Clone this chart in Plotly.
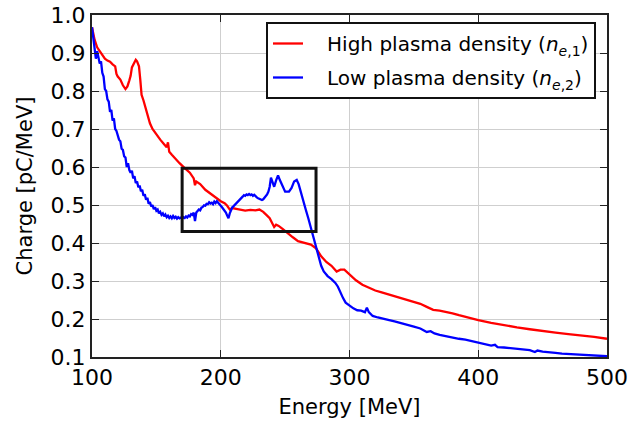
import plotly.graph_objects as go

red_x = [100, 102, 104, 106, 108, 110, 112, 114, 116, 118, 119, 120, 122, 124, 126, 127.5, 129, 130, 131, 132, 134, 135, 136.5, 137.5, 138.5, 140, 142, 144, 145, 147, 150, 153, 156, 158, 159, 160, 162, 165, 168, 172, 176, 179, 180, 181, 184, 188, 192, 196, 200, 203, 205, 207, 209, 212, 215, 219, 223, 227, 230, 233, 236, 238, 240, 241.5, 243, 245, 248, 252, 256, 260, 265, 270, 274, 278, 282, 286, 290, 293, 296, 300, 305, 310, 315, 320, 325, 330, 335, 340, 345, 350, 355, 360, 365, 370, 375, 380, 385, 390, 395, 400, 410, 420, 430, 440, 450, 460, 470, 480, 490, 500]
red_y = [0.968, 0.935, 0.915, 0.905, 0.895, 0.885, 0.880, 0.877, 0.870, 0.865, 0.845, 0.838, 0.830, 0.815, 0.805, 0.812, 0.828, 0.840, 0.862, 0.870, 0.882, 0.878, 0.865, 0.830, 0.790, 0.775, 0.752, 0.725, 0.715, 0.700, 0.685, 0.672, 0.660, 0.652, 0.665, 0.640, 0.632, 0.620, 0.610, 0.597, 0.585, 0.570, 0.552, 0.562, 0.555, 0.540, 0.530, 0.520, 0.510, 0.505, 0.498, 0.488, 0.492, 0.490, 0.487, 0.485, 0.487, 0.486, 0.488, 0.482, 0.472, 0.465, 0.452, 0.442, 0.448, 0.445, 0.437, 0.425, 0.415, 0.405, 0.400, 0.396, 0.386, 0.365, 0.350, 0.340, 0.325, 0.330, 0.330, 0.318, 0.302, 0.290, 0.282, 0.275, 0.270, 0.265, 0.260, 0.256, 0.252, 0.246, 0.240, 0.232, 0.224, 0.222, 0.219, 0.215, 0.210, 0.205, 0.200, 0.197, 0.190, 0.183, 0.178, 0.173, 0.168, 0.164, 0.160, 0.157, 0.153, 0.148]

blue_x = [100, 101, 102, 103, 104, 105, 106, 107, 108, 109, 110, 111, 112, 113, 114, 115, 116, 117, 118, 119,
          120, 121, 122, 123, 124, 125, 126, 127, 128, 129, 130, 131, 132, 133, 134, 135, 136, 137, 138, 139,
          140, 141, 142, 143, 144, 145, 146, 147, 148, 149, 150, 151, 152, 153, 154, 155, 156, 157, 158, 159,
          160, 161, 162, 163, 164, 165, 166, 167, 168, 169, 170, 171, 172, 173, 174, 175, 176, 177, 178, 179,
          180, 181, 182, 183, 184, 185, 186, 187, 188, 189, 190, 191, 192, 193, 194, 195, 196, 197, 198, 199,
          200, 201, 202, 203, 204, 205, 206, 207, 208, 209, 210, 212, 213, 214, 215, 216, 217, 218, 219, 220,
          221, 222, 223, 224, 225, 226, 227, 228, 229, 230, 231, 232, 233, 234, 235, 236, 237, 238, 239, 240,
          241.5, 243, 244.5, 246, 248, 250, 253, 255, 257, 259, 260.5, 262, 264, 266, 268, 270, 272, 274, 276, 278,
          280, 283, 286, 289, 291, 293, 295, 297, 300, 303, 306, 309, 312, 313.5, 315, 318, 322, 326, 330, 335,
          340, 345, 350, 355, 358, 360, 363, 366, 370, 375, 380, 385, 390, 395, 400, 405, 410, 413, 415, 420,
          425, 430, 435, 440, 444, 446, 450, 455, 460, 465, 470, 475, 480, 485, 490, 495, 500]
blue_y = [0.968, 0.935, 0.915, 0.885, 0.905, 0.890, 0.872, 0.878, 0.848, 0.838, 0.805, 0.800, 0.778, 0.772, 0.745, 0.750, 0.722, 0.728, 0.700, 0.695,
          0.684, 0.672, 0.668, 0.648, 0.645, 0.628, 0.625, 0.600, 0.610, 0.592, 0.585, 0.590, 0.570, 0.576, 0.558, 0.562, 0.547, 0.551, 0.536, 0.540,
          0.524, 0.528, 0.514, 0.519, 0.503, 0.508, 0.496, 0.500, 0.489, 0.494, 0.485, 0.488, 0.478, 0.482, 0.474, 0.478, 0.470, 0.475, 0.468, 0.472,
          0.466, 0.470, 0.465, 0.471, 0.466, 0.469, 0.464, 0.468, 0.465, 0.467, 0.464, 0.468, 0.466, 0.470, 0.467, 0.472, 0.470, 0.476, 0.474, 0.480,
          0.458, 0.480, 0.484, 0.488, 0.486, 0.493, 0.495, 0.499, 0.498, 0.503, 0.502, 0.507, 0.504, 0.506, 0.502, 0.509, 0.505, 0.510, 0.506, 0.503,
          0.498, 0.494, 0.490, 0.486, 0.480, 0.472, 0.465, 0.478, 0.488, 0.494, 0.497, 0.505, 0.509, 0.512, 0.516, 0.520, 0.522, 0.526, 0.524, 0.528,
          0.526, 0.529, 0.526, 0.528, 0.524, 0.527, 0.522, 0.520, 0.518, 0.516, 0.514, 0.513, 0.515, 0.519, 0.522, 0.528, 0.535, 0.548, 0.572, 0.560,
          0.548, 0.565, 0.578, 0.565, 0.548, 0.535, 0.535, 0.545, 0.562, 0.566, 0.555, 0.535, 0.510, 0.488, 0.465, 0.440, 0.410, 0.385, 0.360, 0.340,
          0.325, 0.313, 0.305, 0.295, 0.285, 0.268, 0.255, 0.243, 0.235, 0.228, 0.223, 0.222, 0.218, 0.230, 0.218, 0.208, 0.204, 0.200, 0.198, 0.194,
          0.190, 0.186, 0.180, 0.175, 0.170, 0.166, 0.168, 0.162, 0.158, 0.155, 0.150, 0.148, 0.146, 0.142, 0.138, 0.134, 0.130, 0.132, 0.126, 0.125,
          0.123, 0.122, 0.120, 0.118, 0.113, 0.117, 0.114, 0.113, 0.111, 0.109, 0.108, 0.107, 0.107, 0.105, 0.104, 0.104, 0.102]

x_ticks = [100, 200, 300, 400, 500]
y_ticks = [0.1, 0.2, 0.3, 0.4, 0.5, 0.6, 0.7, 0.8, 0.9, 1.0]
box_x = [170, 274]
box_y = [0.43, 0.597]

FONT = "DejaVu Sans"
NB = "\u00a0\u00a0\u00a0"

fig = go.Figure()
fig.add_trace(go.Scatter(x=red_x, y=red_y, mode="lines", line=dict(color="#ff0000", width=2.3),
                         legendgroup="a",
                         name=NB + "High plasma density (<i>n</i><sub><i>e</i>,1</sub>)"))
fig.add_trace(go.Scatter(x=blue_x, y=blue_y, mode="lines", line=dict(color="#0000ff", width=2.3),
                         legendgroup="b",
                         name=NB + "Low plasma density (<i>n</i><sub><i>e</i>,2</sub>)"))

fig.add_shape(type="rect", x0=box_x[0], x1=box_x[1], y0=box_y[0], y1=box_y[1],
              xref="x", yref="y", line=dict(color="#111111", width=3))

axis_common = dict(showline=True, linecolor="#222222", linewidth=2, mirror="allticks",
                   ticks="inside", ticklen=7, tickwidth=1, tickcolor="#222222",
                   showgrid=True, gridcolor="#cfcfcf", gridwidth=1, zeroline=False,
                   automargin=False,
                   tickfont=dict(family=FONT, size=22, color="#000000"))

fig.update_xaxes(range=[100, 500], tickvals=x_ticks, ticktext=[str(v) for v in x_ticks],
                 title=dict(text="Energy [MeV]", font=dict(family=FONT, size=21, color="#000000"), standoff=10),
                 **axis_common)
fig.update_yaxes(range=[0.1, 1.0], tickvals=y_ticks, ticktext=[f"{v:.1f}" for v in y_ticks],
                 title=dict(text="Charge [pC/MeV]", font=dict(family=FONT, size=21, color="#000000"), standoff=12),
                 **axis_common)

fig.update_layout(
    width=631, height=426,
    margin=dict(l=92, r=24, t=15, b=69),
    plot_bgcolor="white", paper_bgcolor="white",
    font=dict(family=FONT, color="#000000"),
    legend=dict(x=(266 - 92) / 515, y=(357 - 22) / 342, xanchor="left", yanchor="top",
                bordercolor="#111111", borderwidth=2, bgcolor="white",
                traceorder="grouped", tracegroupgap=5,
                font=dict(family=FONT, size=20, color="#000000"), itemwidth=30),
)

fig.write_html("out.html")
